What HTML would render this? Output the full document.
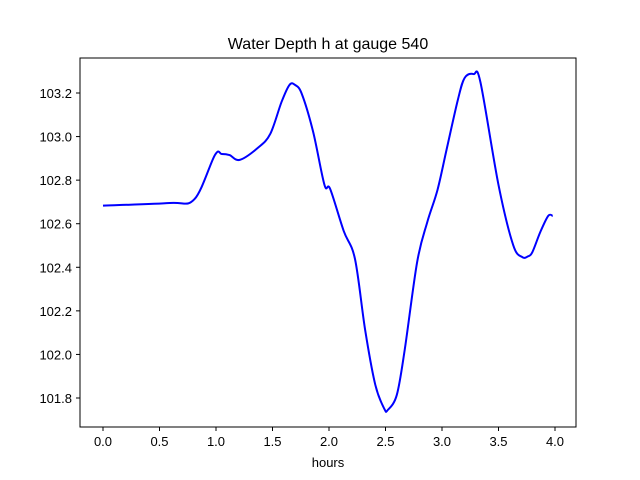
<!DOCTYPE html>
<html><head><meta charset="utf-8"><style>
body{margin:0;background:#fff;}
svg{display:block;font-family:"Liberation Sans","DejaVu Sans",sans-serif;}
</style></head><body>
<svg id="chart" width="640" height="480">
<rect width="640" height="480" fill="#fff"/>
<text x="328" y="49" font-size="16" text-anchor="middle">Water Depth h at gauge 540</text>
<g id="xt"></g><g id="yt"></g>
<path id="line" fill="none" stroke="#0000ff" stroke-width="2"/>
<rect x="80" y="58" width="496" height="369" fill="none" stroke="#000" stroke-width="1"/>
<text x="328" y="467" font-size="13" text-anchor="middle">hours</text>
</svg>
<script>
const hours=[0,0.59,0.81,0.99,1.05,1.12,1.21,1.37,1.48,1.58,1.65,1.7,1.76,1.86,1.96,2.01,2.13,2.23,2.32,2.41,2.49,2.52,2.6,2.67,2.78,2.87,2.96,3.04,3.14,3.2,3.28,3.34,3.5,3.63,3.71,3.76,3.8,3.87,3.94,3.98];
const depth=[102.683,102.695,102.713,102.915,102.92,102.915,102.893,102.948,103.012,103.159,103.237,103.237,103.195,103.021,102.778,102.76,102.567,102.438,102.112,101.86,101.75,101.745,101.814,102.021,102.424,102.608,102.755,102.939,103.168,103.269,103.287,103.25,102.778,102.502,102.447,102.45,102.47,102.562,102.636,102.636];
const xTicks=["0.0","0.5","1.0","1.5","2.0","2.5","3.0","3.5","4.0"];
const yTicks=["101.8","102.0","102.2","102.4","102.6","102.8","103.0","103.2"];
const NS="http://www.w3.org/2000/svg";
const X=v=>103+(v-0)*113;
const Y=v=>93+(103.2-v)*217.86;
const xt=document.getElementById('xt'),yt=document.getElementById('yt');
xTicks.forEach(t=>{const x=X(parseFloat(t));
 const l=document.createElementNS(NS,'line');l.setAttribute('x1',x);l.setAttribute('x2',x);l.setAttribute('y1',427);l.setAttribute('y2',431);l.setAttribute('stroke','#000');
 
 
 xt.appendChild(l);
 const s=document.createElementNS(NS,'text');s.setAttribute('x',x);s.setAttribute('y',446);s.setAttribute('font-size','13');s.setAttribute('text-anchor','middle');s.textContent=t;
 
 
 xt.appendChild(s);});
yTicks.forEach(t=>{const y=Y(parseFloat(t));
 const l=document.createElementNS(NS,'line');l.setAttribute('x1',76);l.setAttribute('x2',80);l.setAttribute('y1',y);l.setAttribute('y2',y);l.setAttribute('stroke','#000');
 
 
 yt.appendChild(l);
 const s=document.createElementNS(NS,'text');s.setAttribute('x',72);s.setAttribute('y',y+5);s.setAttribute('font-size','13');s.setAttribute('text-anchor','end');s.textContent=t;
 
 
 yt.appendChild(s);});
const P=hours.map((h,i)=>[X(h),Y(depth[i])]);
let d='M'+P[0][0]+','+P[0][1];
for(let i=0;i<P.length-1;i++){const p0=P[Math.max(0,i-1)],p1=P[i],p2=P[i+1],p3=P[Math.min(P.length-1,i+2)];
 const c1=[p1[0]+(p2[0]-p0[0])/6,p1[1]+(p2[1]-p0[1])/6],c2=[p2[0]-(p3[0]-p1[0])/6,p2[1]-(p3[1]-p1[1])/6];
 d+=` C${c1[0]},${c1[1]} ${c2[0]},${c2[1]} ${p2[0]},${p2[1]}`;}
document.getElementById('line').setAttribute('d',d);
</script>
</body></html>
